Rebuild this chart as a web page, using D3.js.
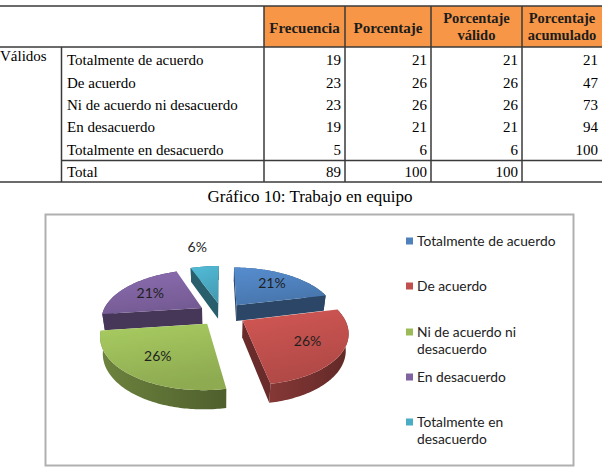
<!DOCTYPE html>
<html>
<head>
<meta charset="utf-8">
<script src="https://cdn.jsdelivr.net/npm/d3@7"></script>
<style>
  body { margin: 0; background: #fff; }
  svg { display: block; }
</style>
</head>
<body>
<div id="chart"></div>
<script>
// table + chart data
const categories = ['Totalmente de acuerdo', 'De acuerdo', 'Ni de acuerdo ni desacuerdo', 'En desacuerdo', 'Totalmente en desacuerdo'];
const frecuencia = [19, 23, 23, 19, 5];
const porcentaje = [21, 26, 26, 21, 6];
const porcentajeValido = [21, 26, 26, 21, 6];
const porcentajeAcumulado = [21, 47, 73, 94, 100];
const totalRow = ['Total', 89, 100, 100, ''];
const groupLabel = 'Válidos';
const headers = [['Frecuencia'], ['Porcentaje'], ['Porcentaje', 'válido'], ['Porcentaje', 'acumulado']];
const legendLines = [['Totalmente de acuerdo'], ['De acuerdo'], ['Ni de acuerdo ni', 'desacuerdo'], ['En desacuerdo'], ['Totalmente en', 'desacuerdo']];
const colors = ['#4F81BD', '#C0504D', '#9BBB59', '#8064A2', '#4BACC6'];
const caption = 'Gráfico 10: Trabajo en equipo';

const W = 602, H = 471;
const serif = '"Liberation Serif", "Times New Roman", serif';
const sans = 'Lato, "Open Sans", sans-serif';

const svg = d3.select('#chart').append('svg')
  .attr('width', W).attr('height', H);
const defs = svg.append('defs');

/* ---------- table ---------- */
const colEdges = [264, 345, 431, 522, 602];
const rowY = d3.scalePoint().domain(d3.range(6)).range([60, 172]);
const tbl = svg.append('g').attr('class', 'table');
const lineCol = '#3a3a3a';

tbl.append('rect')
  .attr('x', colEdges[0]).attr('y', 6)
  .attr('width', colEdges[4] - colEdges[0]).attr('height', 41)
  .attr('fill', '#F79646');

const hline = (x1, x2, y) => tbl.append('line')
  .attr('x1', x1).attr('x2', x2).attr('y1', y).attr('y2', y)
  .attr('stroke', lineCol).attr('stroke-width', 1.5);
const vline = (x, y1, y2) => tbl.append('line')
  .attr('x1', x).attr('x2', x).attr('y1', y1).attr('y2', y2)
  .attr('stroke', lineCol).attr('stroke-width', 1.5);

hline(0, W, 6);
hline(0, W, 47);
hline(61.5, W, 160.5);
hline(0, W, 182);
vline(61.5, 47, 182);
colEdges.slice(0, 4).forEach(x => vline(x, 6, 182));

headers.forEach((lines, i) => {
  const xc = (colEdges[i] + colEdges[i + 1]) / 2;
  const ys = lines.length === 1 ? [28] : [18, 35];
  lines.forEach((t, j) => {
    tbl.append('text')
      .attr('x', xc).attr('y', ys[j]).attr('dy', '0.35em')
      .attr('text-anchor', 'middle')
      .attr('font-family', serif).attr('font-weight', 'bold')
      .attr('font-size', lines.length === 1 ? 15 : 14.5)
      .attr('fill', '#1c1c1c')
      .text(t);
  });
});

tbl.append('text')
  .attr('x', 0).attr('y', rowY(0) - 4).attr('dy', '0.35em')
  .attr('font-family', serif).attr('font-size', 15)
  .text(groupLabel);

const bodyRows = categories.map((c, i) => [c, frecuencia[i], porcentaje[i], porcentajeValido[i], porcentajeAcumulado[i]]);
bodyRows.concat([totalRow]).forEach((row, r) => {
  const y = rowY(r);
  tbl.append('text')
    .attr('x', 67).attr('y', y).attr('dy', '0.35em')
    .attr('font-family', serif).attr('font-size', 15)
    .text(row[0]);
  row.slice(1).forEach((v, c) => {
    tbl.append('text')
      .attr('x', colEdges[c + 1] - 4).attr('y', y).attr('dy', '0.35em')
      .attr('text-anchor', 'end')
      .attr('font-family', serif).attr('font-size', 15)
      .text(v);
  });
});

svg.append('text')
  .attr('x', 310).attr('y', 196).attr('dy', '0.35em')
  .attr('text-anchor', 'middle')
  .attr('font-family', serif).attr('font-size', 17)
  .text(caption);

/* ---------- chart frame ---------- */
svg.append('rect')
  .attr('x', 45.5).attr('y', 214.5).attr('width', 528).attr('height', 251)
  .attr('fill', '#fff').attr('stroke', '#b0b0b0').attr('stroke-width', 2);

/* ---------- 3D pie ---------- */
const phi = 29 * Math.PI / 180;
const D = 434;        // perspective distance
const R = 100;        // radius
const TH = 19;        // thickness
const EXPL = 24;      // explosion
const cx = 222, cy = 314;
const cosP = Math.cos(phi), sinP = Math.sin(phi);
const cam = [0, D * sinP, -D * cosP];

function proj(x, y, z) {
  const yv = y * cosP + z * sinP;
  const zv = z * cosP - y * sinP;
  const s = D / (D + zv);
  return [cx + x * s, cy - yv * s];
}
const depthOf = (x, y, z) => z * cosP - y * sinP;

const pie = d3.pie().sort(null).value(d => d);
const arcs = pie(frecuencia);
const line = d3.line();

const pieG = svg.append('g').attr('class', 'pie');

const slices = arcs.map((a, i) => {
  const mid = (a.startAngle + a.endAngle) / 2;
  const ox = EXPL * Math.sin(mid), oz = EXPL * Math.cos(mid);
  const pt = (t, r, y) => [ox + r * Math.sin(t), y, oz + r * Math.cos(t)];
  return { a, i, mid, ox, oz, pt,
    depth: depthOf(ox + 0.5 * R * Math.sin(mid), 0, oz + 0.5 * R * Math.cos(mid)) };
});

slices.forEach(s => {
  const c = d3.color(colors[s.i]);
  const gTop = defs.append('linearGradient').attr('id', 'top' + s.i)
    .attr('x1', 0).attr('y1', 0).attr('x2', 0.3).attr('y2', 1);
  gTop.append('stop').attr('offset', 0).attr('stop-color', c.brighter(0.25));
  gTop.append('stop').attr('offset', 1).attr('stop-color', c.darker(0.25));
  const gSide = defs.append('linearGradient').attr('id', 'side' + s.i)
    .attr('x1', 0).attr('y1', 0).attr('x2', 1).attr('y2', 0);
  gSide.append('stop').attr('offset', 0).attr('stop-color', c.darker(1.0));
  gSide.append('stop').attr('offset', 1).attr('stop-color', c.darker(1.9));
});

slices.slice().sort((p, q) => q.depth - p.depth).forEach(s => {
  const { a, pt } = s;
  const c = d3.color(colors[s.i]);
  const steps = Math.max(4, Math.ceil((a.endAngle - a.startAngle) / (Math.PI / 180)));
  const angs = d3.range(steps + 1).map(k => a.startAngle + (a.endAngle - a.startAngle) * k / steps);
  const P = p => proj(p[0], p[1], p[2]);

  // outer wall
  const wall = angs.map(t => P(pt(t, R, 0)))
    .concat(angs.slice().reverse().map(t => P(pt(t, R, -TH))));
  pieG.append('path').attr('d', line(wall) + 'Z')
    .attr('fill', `url(#side${s.i})`);

  // radial cut faces, only those facing the camera
  [[a.startAngle, -1], [a.endAngle, 1]].forEach(([t, sg]) => {
    const n = [sg * Math.cos(t), 0, -sg * Math.sin(t)];
    const m = pt(t, R / 2, -TH / 2);
    const v = [cam[0] - m[0], cam[1] - m[1], cam[2] - m[2]];
    if (n[0] * v[0] + n[1] * v[1] + n[2] * v[2] <= 0) return;
    const face = [P(pt(t, 0, 0)), P(pt(t, R, 0)), P(pt(t, R, -TH)), P(pt(t, 0, -TH))];
    pieG.append('path').attr('d', line(face) + 'Z')
      .attr('fill', c.darker(1.7));
  });

  // top
  const top = [P(pt(0, 0, 0))].concat(angs.map(t => P(pt(t, R, 0))));
  pieG.append('path').attr('d', line(top) + 'Z')
    .attr('fill', `url(#top${s.i})`);
});

// data labels
const fmt = d => Math.round(d / d3.sum(frecuencia) * 100) + '%';
slices.forEach(s => {
  const small = (s.a.endAngle - s.a.startAngle) < 0.5;
  const r = small ? 172 : 68;
  const p = proj(s.ox + r * Math.sin(s.mid), 0, s.oz + r * Math.cos(s.mid));
  pieG.append('text')
    .attr('x', p[0]).attr('y', p[1]).attr('dy', '0.35em')
    .attr('text-anchor', 'middle')
    .attr('font-family', sans).attr('font-size', 14)
    .attr('fill', '#1f1f1f')
    .text(fmt(s.a.data));
});

/* ---------- legend ---------- */
const legY = [241, 286, 332, 377, 422];
const leg = svg.append('g').attr('class', 'legend');
legendLines.forEach((lines, i) => {
  leg.append('rect')
    .attr('x', 406).attr('y', legY[i] - 3.5).attr('width', 7).attr('height', 7)
    .attr('fill', colors[i]);
  lines.forEach((t, j) => {
    leg.append('text')
      .attr('x', 417).attr('y', legY[i] + j * 17.5).attr('dy', '0.35em')
      .attr('font-family', sans).attr('font-size', 13.8)
      .attr('fill', '#222')
      .text(t);
  });
});
</script>
</body>
</html>
